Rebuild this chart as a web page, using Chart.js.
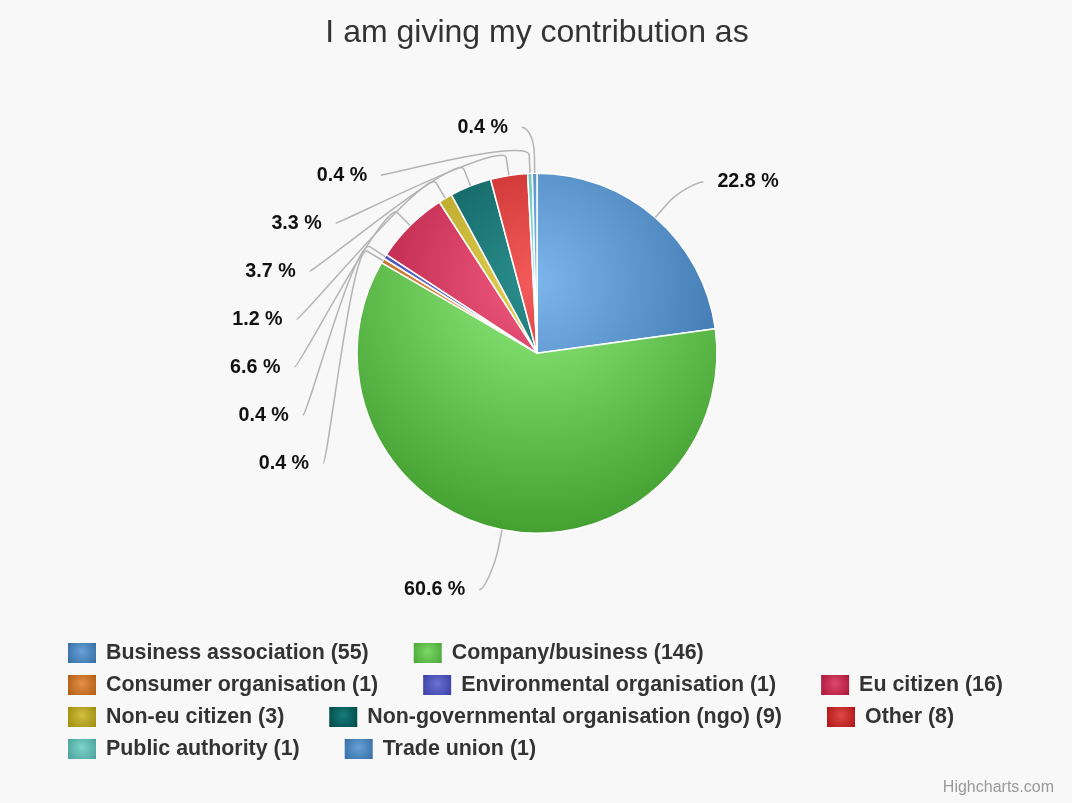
<!DOCTYPE html>
<html>
<head>
<meta charset="utf-8">
<title>I am giving my contribution as</title>
<script src="https://cdn.jsdelivr.net/npm/chart.js@4.4.1/dist/chart.umd.min.js"></script>
<style>
  html, body { margin: 0; padding: 0; background: #f8f8f8; }
  #wrap { width: 1072px; height: 803px; position: relative; }
</style>
</head>
<body>
<div id="wrap"><canvas id="myChart"></canvas></div>
<script>
var categories = [
    'Business association',
    'Company/business',
    'Consumer organisation',
    'Environmental organisation',
    'Eu citizen',
    'Non-eu citizen',
    'Non-governmental organisation (ngo)',
    'Other',
    'Public authority',
    'Trade union'
];
var answers = [55, 146, 1, 1, 16, 3, 9, 8, 1, 1];
var colors = ['#7cb5ec', '#90ed7d', '#f7a35c', '#8085e9', '#f15c80', '#e4d354', '#2b908f', '#f45b5b', '#91e8e1', '#7cb5ec'];

var total = answers.reduce(function(a, b) { return a + b; }, 0);

var PIE_RADIUS = 180;
var LABEL_R = 235;   // where a label would sit if nothing pushed it
var SLOT = 48;       // vertical step between stacked labels
var FONT = '"Liberation Sans", Arial, sans-serif';

function darken(hex, amount) {
    var n = parseInt(hex.slice(1), 16);
    var r = Math.max(0, (n >> 16) - amount);
    var g = Math.max(0, ((n >> 8) & 255) - amount);
    var b = Math.max(0, (n & 255) - amount);
    return 'rgb(' + r + ',' + g + ',' + b + ')';
}

// light spot above the centre, darker towards the rim
function sliceFill(context) {
    var chart = context.chart;
    var area = chart.chartArea;
    var c = colors[context.dataIndex];
    if (!area) return c;
    var cx = (area.left + area.right) / 2;
    var cy = (area.top + area.bottom) / 2 - 0.4 * PIE_RADIUS;
    var grad = chart.ctx.createRadialGradient(cx, cy, 0, cx, cy, 1.4 * PIE_RADIUS);
    grad.addColorStop(0, c);
    grad.addColorStop(1, darken(c, 76));
    return grad;
}

var pieLabels = {
    id: 'pieLabels',
    afterDatasetsDraw: function(chart) {
        var ctx = chart.ctx;
        var meta = chart.getDatasetMeta(0);
        var items = [];
        meta.data.forEach(function(arc, i) {
            var mid = (arc.startAngle + arc.endAngle) / 2;
            var cos = Math.cos(mid), sin = Math.sin(mid);
            items.push({
                i: i, cos: cos, sin: sin,
                side: cos >= 0 ? 1 : -1,
                cx: arc.x, cy: arc.y, r: arc.outerRadius,
                nx: arc.x + LABEL_R * cos,
                ny: arc.y + LABEL_R * sin + 6
            });
        });

        [1, -1].forEach(function(side) {
            var group = items.filter(function(it) { return it.side === side; })
                .sort(function(a, b) { return a.ny - b.ny; });
            var prev = -Infinity;
            group.forEach(function(it, k) {
                var y = Math.max(it.ny, prev + SLOT, it.cy - 226);
                it.y = y;
                prev = y;
                if (k === 0 || k === group.length - 1) {
                    it.x = it.nx + side * 12;
                } else {
                    var dy = (y - it.cy) / 232;
                    it.x = it.cx + side * 243 * Math.sqrt(Math.max(0, 1 - dy * dy));
                }
            });
        });

        ctx.save();
        // connectors
        ctx.strokeStyle = '#b4b4b4';
        ctx.lineWidth = 1.5;
        items.forEach(function(it) {
            var ex = it.cx + it.r * it.cos, ey = it.cy + it.r * it.sin;
            var bx = it.cx + (it.r + 18) * it.cos, by = it.cy + (it.r + 18) * it.sin;
            ctx.beginPath();
            ctx.moveTo(it.x, it.y);
            ctx.bezierCurveTo(it.x - it.side * 5, it.y, 2 * bx - ex, 2 * by - ey, bx, by);
            ctx.lineTo(ex, ey);
            ctx.stroke();
        });
        // percentages
        ctx.fillStyle = '#111';
        ctx.font = 'bold 19.7px ' + FONT;
        ctx.textBaseline = 'middle';
        items.forEach(function(it) {
            var pct = (answers[it.i] / total * 100).toFixed(1) + ' %';
            ctx.textAlign = it.side > 0 ? 'left' : 'right';
            ctx.fillText(pct, it.x + it.side * 14, it.y);
        });
        ctx.restore();
    },
    afterDraw: function(chart) {
        var ctx = chart.ctx;
        ctx.save();

        // legend: items flow left to right, wrapping before the right margin
        var x0 = 68, right = 1020, y = 653;
        var boxW = 28, boxH = 20, gap = 45;
        ctx.font = 'bold 21.4px ' + FONT;
        ctx.textBaseline = 'middle';
        ctx.textAlign = 'left';
        var x = x0;
        categories.forEach(function(name, i) {
            var text = name + ' (' + answers[i] + ')';
            var w = boxW + 10 + ctx.measureText(text).width;
            if (x > x0 && x + w > right) {
                x = x0;
                y += 32;
            }
            var g = ctx.createRadialGradient(x + boxW / 2, y - 2, 0, x + boxW / 2, y, boxW * 0.6);
            g.addColorStop(0, darken(colors[i], 20));
            g.addColorStop(1, darken(colors[i], 70));
            ctx.fillStyle = g;
            ctx.fillRect(x, y - boxH / 2, boxW, boxH);
            ctx.fillStyle = '#333';
            ctx.fillText(text, x + boxW + 10, y);
            x += w + gap;
        });

        ctx.fillStyle = '#999';
        ctx.font = '16px ' + FONT;
        ctx.textAlign = 'right';
        ctx.fillText('Highcharts.com', 1054, 788);
        ctx.restore();
    }
};

new Chart('myChart', {
    type: 'pie',
    data: {
        labels: categories,
        datasets: [{
            data: answers,
            backgroundColor: sliceFill,
            borderColor: '#ffffff',
            borderWidth: 1.5,
            radius: PIE_RADIUS
        }]
    },
    options: {
        responsive: true,
        maintainAspectRatio: false,
        animation: false,
        layout: {
            padding: { left: 2, right: 0, top: 0, bottom: 172 }
        },
        plugins: {
            title: {
                display: true,
                text: 'I am giving my contribution as',
                color: '#333',
                font: { family: FONT, size: 32, weight: 'normal' },
                padding: { top: 14, bottom: 23 }
            },
            legend: { display: false },
            tooltip: { enabled: false }
        }
    },
    plugins: [pieLabels]
});
</script>
</body>
</html>
